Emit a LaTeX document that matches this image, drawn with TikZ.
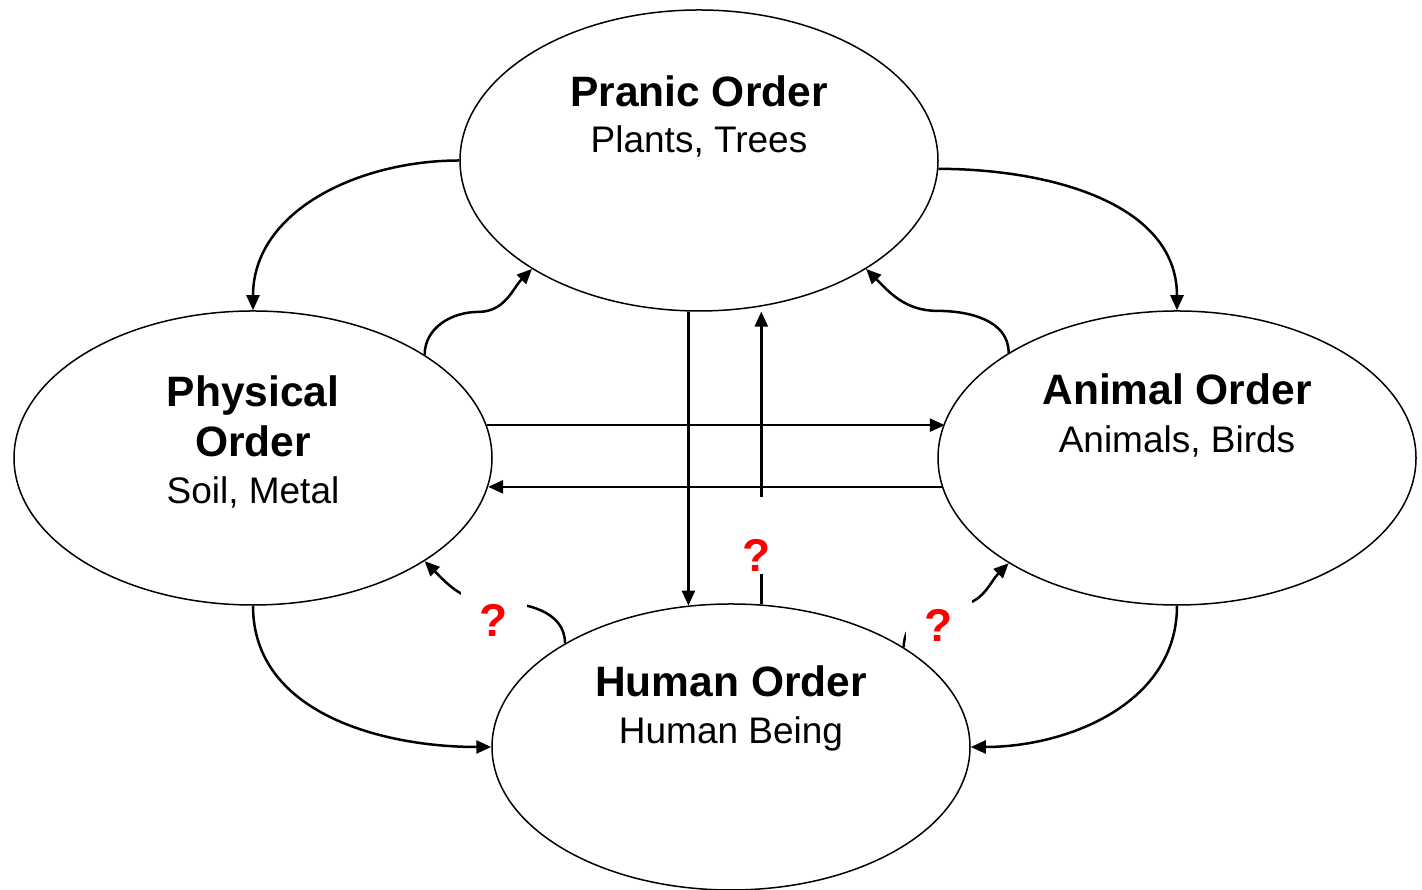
\documentclass[tikz,border=0pt]{standalone}
\usepackage{fontspec}
\setmainfont{Liberation Sans}
\usetikzlibrary{shapes.geometric,arrows.meta,calc}
\begin{document}
\begin{tikzpicture}[x=1pt,y=1pt,
  orderbox/.style={draw=black,line width=1.5pt,ellipse,minimum width=478pt,inner sep=0pt},
  conn/.style={line width=2.5pt,-{Triangle[length=15pt,width=13pt]}},
  ttl/.style={anchor=base,inner sep=0pt,font=\fontsize{42.5}{50}\selectfont\bfseries},
  sub/.style={anchor=base,inner sep=0pt,font=\fontsize{37}{44}\selectfont},
  qmark/.style={anchor=base,fill=white,text=red,inner ysep=0pt,text depth=2pt,font=\fontsize{46}{50}\selectfont\bfseries}]
\fill[white] (0,0) rectangle (1422,890);
\useasboundingbox (0,0) rectangle (1422,890);

% ellipses
\node[orderbox,minimum height=301pt] (pranic) at (699,729.5) {};
\node[orderbox,minimum height=294pt] (physical) at (253,432) {};
\node[orderbox,minimum height=294pt] (animal) at (1177,432) {};
\node[orderbox,minimum height=286pt] (human) at (731,143) {};

% texts
\node[ttl] (pranicT) at (699,783.3) {Pranic Order};
\node[sub] (pranicS) at (699,737.7) {Plants, Trees};
\node[ttl] (physT1) at (253,483.3) {Physical};
\node[ttl] (physT2) at (253,433.3) {Order};
\node[sub] (physS) at (253,386.7) {Soil, Metal};
\node[ttl] (animalT) at (1177,485) {Animal Order};
\node[sub] (animalS) at (1177,437.7) {Animals, Birds};
\node[ttl] (humanT) at (731,193.3) {Human Order};
\node[sub] (humanS) at (731,146.7) {Human Being};

% outer curved connectors
\draw[conn] (pranic.180) to[out=180,in=90] (physical.90);
\draw[conn] (pranic.-2) to[out=0,in=90] (animal.90);
\draw[conn] (physical.-90) to[out=-90,in=180] (human.180);
\draw[conn] (animal.-90) to[out=-90,in=0] (human.0);

% S-shaped connectors
\draw[conn] (physical.31.4) to[out=90,in=180] ($(physical.31.4)!0.5!(pranic.213.4)$) to[out=0,in=225] (pranic.213.4);
\draw[conn] (animal.148.6) to[out=90,in=0] ($(animal.148.6)!0.5!(pranic.-33.4)$) to[out=180,in=-45] (pranic.-33.4);
\draw[conn] (human.148.9) to[out=90,in=0] ($(human.148.9)!0.5!(physical.-31.8)$) to[out=180,in=-45] (physical.-31.8);
\draw[conn] (human.30.7) to[out=90,in=180] ($(human.30.7)!0.5!(animal.212.3)$) to[out=0,in=225] (animal.212.3);

% straight connectors
\draw[conn] (pranic.-94.2) -- (pranic.-94.2 |- human.107);
\draw[conn,shorten >=5pt] (human.78.4) -- (human.78.4 |- pranic.-67.3);
\draw[conn] (physical.8.3) -- (physical.8.3 -| animal.171.7);
\draw[conn] (animal.187.3) -- (animal.187.3 -| physical.-7.3);

% question marks
\node[qmark,inner xsep=6pt,text height=75pt] (q1) at (757,318.3) {?};
\node[qmark,inner xsep=19pt,text height=47pt] (q2) at (494,253) {?};
\node[qmark,inner xsep=19pt,text height=46.7pt] (q3) at (939,248.3) {?};
\end{tikzpicture}
\end{document}
